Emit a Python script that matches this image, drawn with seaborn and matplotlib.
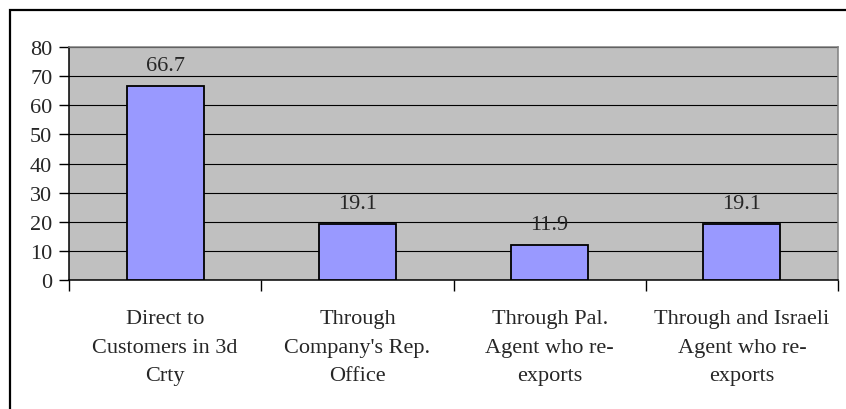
import matplotlib
matplotlib.use("Agg")
import matplotlib.pyplot as plt
import seaborn as sns
from matplotlib.patches import Rectangle

categories = ["Direct to\nCustomers in 3d\nCrty",
              "Through\nCompany's Rep.\nOffice",
              "Through Pal.\nAgent who re-\nexports",
              "Through and Israeli\nAgent who re-\nexports"]
values = [66.7, 19.1, 11.9, 19.1]
value_labels = ["66.7", "19.1", "11.9", "19.1"]
yticks = [0, 10, 20, 30, 40, 50, 60, 70, 80]

sns.set_style("white")
plt.rcParams["font.family"] = ["Liberation Serif", "DejaVu Serif"]

W, H = 846, 410
fig = plt.figure(figsize=(W / 100, H / 100), dpi=100)
fig.patch.set_facecolor("white")
ax = fig.add_axes([69 / W, 1 - 281 / H, (838 - 69) / W, (281 - 48) / H])

# outer chart border (only left and top visible in the picture)
fig.patches.append(Rectangle((10 / W, -0.1), 1.2, 1.1 - 11 / H,
                             transform=fig.transFigure, fill=False,
                             edgecolor="black", linewidth=1.6, zorder=10))

ax.set_facecolor("#C0C0C0")
sns.barplot(x=list(range(len(values))), y=values, color="#9999FF",
            edgecolor="black", linewidth=1.3, width=0.4, saturation=1,
            ax=ax, zorder=3, native_scale=True)

ax.set_xlim(-0.5, 3.5)
ax.set_ylim(0, 80)
ax.set_yticks(yticks)
ax.set_yticklabels([str(v) for v in yticks], fontsize=16)
ax.yaxis.grid(True, color="black", linewidth=0.8, zorder=0)
ax.set_axisbelow(True)

ax.set_xticks([-0.5, 0.5, 1.5, 2.5, 3.5])
ax.set_xticklabels([])
ax.set_xticks(range(len(categories)), minor=True)
ax.set_xticklabels(categories, minor=True, fontsize=16, linespacing=1.68)
ax.tick_params(axis="x", which="minor", length=0, pad=21)
ax.tick_params(axis="x", which="major", direction="out", length=8,
               width=1, color="black", bottom=True)
ax.tick_params(axis="y", direction="out", length=7, width=1, color="black",
               left=True, pad=5)

for s in ["left", "bottom"]:
    ax.spines[s].set_color("black")
    ax.spines[s].set_linewidth(1.1)
for s in ["top", "right"]:
    ax.spines[s].set_color("#808080")
    ax.spines[s].set_linewidth(1.1)

for i, (v, lab) in enumerate(zip(values, value_labels)):
    ax.annotate(lab, (i, v), xytext=(0, 11.5), textcoords="offset points",
                ha="center", va="baseline", fontsize=16)

ax.set_xlabel("")
ax.set_ylabel("")
fig.savefig("out.png", dpi=100, facecolor="white")
